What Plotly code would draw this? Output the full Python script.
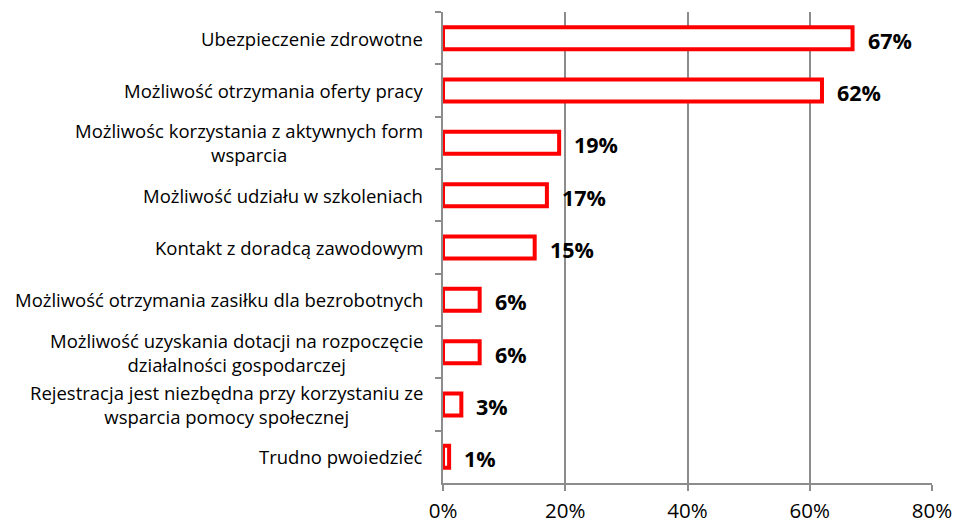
import plotly.graph_objects as go

# Survey answers, top to bottom
categories = [
    "Ubezpieczenie zdrowotne",
    "Możliwość otrzymania oferty pracy",
    "Możliwośc korzystania z aktywnych form<br>wsparcia",
    "Możliwość udziału w szkoleniach",
    "Kontakt z doradcą zawodowym",
    "Możliwość otrzymania zasiłku dla bezrobotnych",
    "Możliwość uzyskania dotacji na rozpoczęcie<br>działalności gospodarczej",
    "Rejestracja jest niezbędna przy korzystaniu ze<br>wsparcia pomocy społecznej",
    "Trudno pwoiedzieć",
]
shares = [0.67, 0.62, 0.19, 0.17, 0.15, 0.06, 0.06, 0.03, 0.01]
x_ticks = [0, 0.2, 0.4, 0.6, 0.8]
x_tick_labels = ["0%", "20%", "40%", "60%", "80%"]

FONT = "Open Sans, Noto Sans, sans-serif"
GRID = "#8c8c8c"

fig = go.Figure(
    go.Bar(
        x=shares,
        y=categories,
        orientation="h",
        width=0.42,
        marker=dict(color="white", line=dict(color="#ff0000", width=4)),
        hoverinfo="skip",
    )
)

annotations = []
# value labels beside each bar
for cat, val in zip(categories, shares):
    annotations.append(dict(
        x=val, y=cat, xref="x", yref="y",
        text=f"<b>{round(val * 100)}%</b>",
        showarrow=False, xanchor="left", yanchor="middle",
        xshift=13, yshift=-2,
        font=dict(family=FONT, size=21.5, color="black"),
    ))
# category labels, lines centered within a right-aligned block
for cat in categories:
    annotations.append(dict(
        x=0, y=cat, xref="paper", yref="y",
        text=cat, showarrow=False, xanchor="right", yanchor="middle",
        align="center", xshift=-18,
        font=dict(family=FONT, size=18.5, color="black"),
    ))

fig.update_layout(
    width=955, height=529,
    margin=dict(l=443, r=23, t=12, b=46),
    paper_bgcolor="white", plot_bgcolor="white",
    showlegend=False,
    annotations=annotations,
    xaxis=dict(
        range=[0, 0.8],
        tickvals=x_ticks, ticktext=x_tick_labels,
        showgrid=True, gridcolor=GRID, gridwidth=1.5,
        showline=True, linecolor=GRID, linewidth=1.5,
        ticks="outside", ticklen=6, tickcolor=GRID, tickwidth=1.5,
        ticklabelstandoff=3,
        tickfont=dict(family=FONT, size=20.5, color="black"),
        zeroline=False, fixedrange=True, automargin=False,
    ),
    yaxis=dict(
        categoryorder="array", categoryarray=categories,
        autorange="reversed",
        showticklabels=False,
        tickson="boundaries", ticks="outside", ticklen=6,
        tickcolor=GRID, tickwidth=1.5,
        showline=True, linecolor=GRID, linewidth=1.5,
        showgrid=False, zeroline=False, fixedrange=True, automargin=False,
    ),
)

fig.write_html("out.html")
